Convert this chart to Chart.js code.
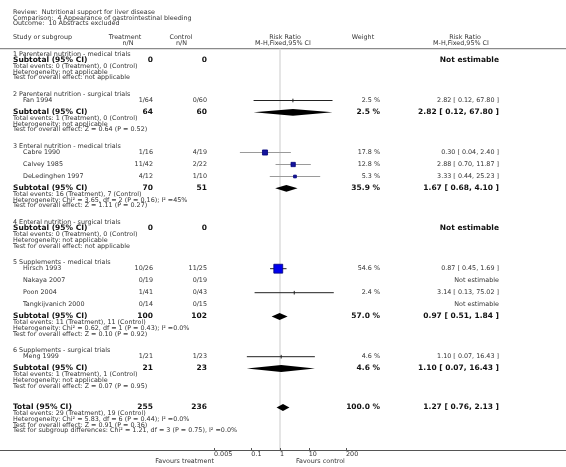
<!DOCTYPE html>
<html>
<head>
<meta charset="utf-8">
<script src="https://cdn.jsdelivr.net/npm/chart.js@4.4.1/dist/chart.umd.min.js"></script>
<style>
  html, body { margin: 0; padding: 0; background: #fff; }
  canvas { display: block; }
</style>
</head>
<body>
<canvas id="forest" width="566" height="467"></canvas>
<script>
// ---- data ----
const HEADER_LINES = [
  "Review:  Nutritional support for liver disease",
  "Comparison:  4 Appearance of gastrointestinal bleeding",
  "Outcome:  10 Abstracts excluded",
];

const GROUP_LABELS = [
  "1 Parenteral nutrition - medical trials",
  "2 Parenteral nutrition - surgical trials",
  "3 Enteral nutrition - medical trials",
  "4 Enteral nutrition - surgical trials",
  "5 Supplements - medical trials",
  "6 Supplements - surgical trials",
];

const STUDY_NAMES = [
  "Fan 1994", "Cabre 1990", "Calvey 1985", "DeLedinghen 1997",
  "Hirsch 1993", "Nakaya 2007", "Poon 2004", "Tangkijvanich 2000", "Meng 1999",
];
const STUDY_GROUP = [1, 2, 2, 2, 4, 4, 4, 4, 5];
const STUDY_TREAT = ["1/64", "1/16", "11/42", "4/12", "10/26", "0/19", "1/41", "0/14", "1/21"];
const STUDY_CONTROL = ["0/60", "4/19", "2/22", "1/10", "11/25", "0/19", "0/43", "0/15", "1/23"];
const STUDY_RR = [2.82, 0.30, 2.88, 3.33, 0.87, null, 3.14, null, 1.10];
const STUDY_LOW = [0.12, 0.04, 0.70, 0.44, 0.45, null, 0.13, null, 0.07];
const STUDY_HIGH = [67.80, 2.40, 11.87, 25.23, 1.69, null, 75.02, null, 16.43];
const STUDY_WEIGHT = [2.5, 17.8, 12.8, 5.3, 54.6, null, 2.4, null, 4.6];

const SUB_TREAT_N = [0, 64, 70, 0, 100, 21];
const SUB_CONTROL_N = [0, 60, 51, 0, 102, 23];
const SUB_RR = [null, 2.82, 1.67, null, 0.97, 1.10];
const SUB_LOW = [null, 0.12, 0.68, null, 0.51, 0.07];
const SUB_HIGH = [null, 67.80, 4.10, null, 1.84, 16.43];
const SUB_WEIGHT = [null, 2.5, 35.9, null, 57.0, 4.6];
const SUB_NOTES = [
  ["Total events: 0 (Treatment), 0 (Control)", "Heterogeneity: not applicable", "Test for overall effect: not applicable"],
  ["Total events: 1 (Treatment), 0 (Control)", "Heterogeneity: not applicable", "Test for overall effect: Z = 0.64 (P = 0.52)"],
  ["Total events: 16 (Treatment), 7 (Control)", "Heterogeneity: Chi\u00b2 = 3.65, df = 2 (P = 0.16); I\u00b2 =45%", "Test for overall effect: Z = 1.11 (P = 0.27)"],
  ["Total events: 0 (Treatment), 0 (Control)", "Heterogeneity: not applicable", "Test for overall effect: not applicable"],
  ["Total events: 11 (Treatment), 11 (Control)", "Heterogeneity: Chi\u00b2 = 0.62, df = 1 (P = 0.43); I\u00b2 =0.0%", "Test for overall effect: Z = 0.10 (P = 0.92)"],
  ["Total events: 1 (Treatment), 1 (Control)", "Heterogeneity: not applicable", "Test for overall effect: Z = 0.07 (P = 0.95)"],
];

const TOTAL_N = [255, 236];
const TOTAL_RR = [1.27, 0.76, 2.13];
const TOTAL_WEIGHT = 100.0;
const TOTAL_NOTES = [
  "Total events: 29 (Treatment), 19 (Control)",
  "Heterogeneity: Chi\u00b2 = 5.83, df = 6 (P = 0.44); I\u00b2 =0.0%",
  "Test for overall effect: Z = 0.91 (P = 0.36)",
  "Test for subgroup differences: Chi\u00b2 = 1.21, df = 3 (P = 0.75), I\u00b2 =0.0%",
];

const X_TICKS = [0.005, 0.1, 1, 10, 200];
const X_TICK_LABELS = ["0.005", "0.1", "1", "10", "200"];

// ---- layout (the y scale is 1:1 with canvas pixels) ----
const W = 566, H = 467;
const TITLE_TOP = 12.4, TITLE_STEP = 5.7;
const FIRST_ROW = 54.3;
const LABEL_TO_ROW = 6, ROW_STEP = 12, ROW_TO_SUB = 11.8;
const SUB_TO_NOTE = 6, NOTE_STEP = 5.7, GAP_GROUP = 16.8, GAP_TOTAL = 21.6;
const HEADER_RULE = 48.7, AXIS_Y = 450;

const COL = { name: 13, study: 23, treat: 153, control: 207, weight: 380, rr: 499 };
const SMALL = '6.4px "DejaVu Sans"';
const BOLD = 'bold 7.5px "DejaVu Sans"';
const INK = "#333";
const DARK = "#111";
const GRAY_CI = ["Cabre 1990", "Calvey 1985", "DeLedinghen 1997"];

function fmtRR(rr, lo, hi) {
  return rr.toFixed(2) + " [ " + lo.toFixed(2) + ", " + hi.toFixed(2) + " ]";
}

function buildRows() {
  const rows = [];
  let y = FIRST_ROW;
  GROUP_LABELS.forEach((label, g) => {
    if (g > 0) y += GAP_GROUP;
    rows.push({ kind: "group", g, y });
    y += LABEL_TO_ROW;
    const members = STUDY_NAMES.map((_, i) => i).filter((i) => STUDY_GROUP[i] === g);
    members.forEach((i, k) => {
      if (k) y += ROW_STEP;
      rows.push({ kind: "study", i, y });
    });
    if (members.length) y += ROW_TO_SUB;
    rows.push({ kind: "subtotal", g, y });
    y += SUB_TO_NOTE;
    SUB_NOTES[g].forEach((t, k) => {
      if (k) y += NOTE_STEP;
      rows.push({ kind: "note", text: t, y });
    });
  });
  y += GAP_TOTAL;
  rows.push({ kind: "total", y });
  y += SUB_TO_NOTE;
  TOTAL_NOTES.forEach((t, k) => {
    if (k) y += NOTE_STEP;
    rows.push({ kind: "note", text: t, y });
  });
  return rows;
}

const ROWS = buildRows();
const studyRows = ROWS.filter((r) => r.kind === "study" && STUDY_RR[r.i] != null);

// CI whiskers, one small line dataset per study
const ciSets = studyRows.map((r) => ({
  type: "line",
  data: [{ x: STUDY_LOW[r.i], y: r.y }, { x: STUDY_HIGH[r.i], y: r.y }],
  borderColor: GRAY_CI.includes(STUDY_NAMES[r.i]) ? "#9a9a9a" : "#222",
  borderWidth: 1,
  pointRadius: 0,
  order: 2,
}));

// weight squares (the lightest studies only show a tick)
const squares = studyRows.filter((r) => STUDY_WEIGHT[r.i] >= 5);
const ticks = studyRows.filter((r) => STUDY_WEIGHT[r.i] < 5);

const datasets = [
  ...ciSets,
  {
    type: "scatter",
    data: squares.map((r) => ({ x: STUDY_RR[r.i], y: r.y })),
    pointStyle: "rect",
    pointRadius: squares.map((r) => 0.85 * Math.sqrt(STUDY_WEIGHT[r.i])),
    backgroundColor: squares.map((r) => (STUDY_WEIGHT[r.i] > 30 ? "#0000ee" : "#14149c")),
    borderColor: "#00007a",
    borderWidth: 0.8,
    order: 1,
  },
  {
    type: "scatter",
    data: ticks.map((r) => ({ x: STUDY_RR[r.i], y: r.y })),
    pointStyle: "line",
    rotation: 90,
    pointRadius: 1.8,
    borderColor: "#222",
    borderWidth: 1,
    order: 1,
  },
];

function text(ctx, s, x, y, font, align, color) {
  ctx.font = font;
  ctx.textAlign = align;
  ctx.fillStyle = color || INK;
  ctx.fillText(s, x, y);
}

function diamond(ctx, xs, py, lo, est, hi) {
  const a = xs.getPixelForValue(lo), m = xs.getPixelForValue(est), b = xs.getPixelForValue(hi);
  ctx.beginPath();
  ctx.moveTo(a, py);
  ctx.lineTo(m, py - 3.4);
  ctx.lineTo(b, py);
  ctx.lineTo(m, py + 3.4);
  ctx.closePath();
  ctx.fillStyle = "#000";
  ctx.fill();
}

const forestPlugin = {
  id: "forest",
  beforeDatasetsDraw(chart) {
    const { ctx, scales: { x, y } } = chart;
    ctx.save();
    // header rule
    ctx.strokeStyle = "#8a8a8a";
    ctx.lineWidth = 1.2;
    ctx.beginPath();
    ctx.moveTo(0, y.getPixelForValue(HEADER_RULE));
    ctx.lineTo(W, y.getPixelForValue(HEADER_RULE));
    ctx.stroke();
    // line of no effect
    const x1 = x.getPixelForValue(1);
    ctx.strokeStyle = "#dcdcdc";
    ctx.lineWidth = 1.5;
    ctx.beginPath();
    ctx.moveTo(x1, y.getPixelForValue(HEADER_RULE));
    ctx.lineTo(x1, y.getPixelForValue(AXIS_Y));
    ctx.stroke();
    ctx.restore();
  },
  afterDatasetsDraw(chart) {
    const { ctx, scales: { x, y } } = chart;
    ctx.save();
    ctx.textBaseline = "middle";

    // titles and column heads
    HEADER_LINES.forEach((s, k) =>
      text(ctx, s, COL.name, y.getPixelForValue(TITLE_TOP + k * TITLE_STEP), SMALL, "left"));
    const h1 = y.getPixelForValue(37.7), h2 = y.getPixelForValue(43.3);
    text(ctx, "Study or subgroup", COL.name, h1, SMALL, "left");
    text(ctx, "Treatment", 125, h1, SMALL, "center");
    text(ctx, "n/N", 128, h2, SMALL, "center");
    text(ctx, "Control", 181, h1, SMALL, "center");
    text(ctx, "n/N", 181.5, h2, SMALL, "center");
    text(ctx, "Risk Ratio", 285, h1, SMALL, "center");
    text(ctx, "M-H,Fixed,95% CI", 283, h2, SMALL, "center");
    text(ctx, "Weight", 363, h1, SMALL, "center");
    text(ctx, "Risk Ratio", 465, h1, SMALL, "center");
    text(ctx, "M-H,Fixed,95% CI", 461, h2, SMALL, "center");

    ROWS.forEach((r) => {
      const py = y.getPixelForValue(r.y);
      if (r.kind === "group") {
        text(ctx, GROUP_LABELS[r.g], COL.name, py, SMALL, "left");
      } else if (r.kind === "note") {
        text(ctx, r.text, COL.name, py, SMALL, "left");
      } else if (r.kind === "study") {
        const i = r.i;
        text(ctx, STUDY_NAMES[i], COL.study, py, SMALL, "left");
        text(ctx, STUDY_TREAT[i], COL.treat, py, SMALL, "right");
        text(ctx, STUDY_CONTROL[i], COL.control, py, SMALL, "right");
        if (STUDY_RR[i] == null) {
          text(ctx, "Not estimable", COL.rr, py, SMALL, "right");
        } else {
          text(ctx, STUDY_WEIGHT[i].toFixed(1) + " %", COL.weight, py, SMALL, "right");
          text(ctx, fmtRR(STUDY_RR[i], STUDY_LOW[i], STUDY_HIGH[i]), COL.rr, py, SMALL, "right");
        }
      } else if (r.kind === "subtotal") {
        const g = r.g;
        text(ctx, "Subtotal (95% CI)", COL.name, py, BOLD, "left", DARK);
        text(ctx, String(SUB_TREAT_N[g]), COL.treat, py, BOLD, "right", DARK);
        text(ctx, String(SUB_CONTROL_N[g]), COL.control, py, BOLD, "right", DARK);
        if (SUB_RR[g] == null) {
          text(ctx, "Not estimable", COL.rr, py, BOLD, "right", DARK);
        } else {
          text(ctx, SUB_WEIGHT[g].toFixed(1) + " %", COL.weight, py, BOLD, "right", DARK);
          text(ctx, fmtRR(SUB_RR[g], SUB_LOW[g], SUB_HIGH[g]), COL.rr, py, BOLD, "right", DARK);
          diamond(ctx, x, py, SUB_LOW[g], SUB_RR[g], SUB_HIGH[g]);
        }
      } else if (r.kind === "total") {
        text(ctx, "Total (95% CI)", COL.name, py, BOLD, "left", DARK);
        text(ctx, String(TOTAL_N[0]), COL.treat, py, BOLD, "right", DARK);
        text(ctx, String(TOTAL_N[1]), COL.control, py, BOLD, "right", DARK);
        text(ctx, TOTAL_WEIGHT.toFixed(1) + " %", COL.weight, py, BOLD, "right", DARK);
        text(ctx, fmtRR(TOTAL_RR[0], TOTAL_RR[1], TOTAL_RR[2]), COL.rr, py, BOLD, "right", DARK);
        diamond(ctx, x, py, TOTAL_RR[1], TOTAL_RR[0], TOTAL_RR[2]);
      }
    });

    // bottom axis
    const ay = y.getPixelForValue(AXIS_Y);
    ctx.strokeStyle = "#555";
    ctx.lineWidth = 1;
    ctx.beginPath();
    ctx.moveTo(0, ay + 0.5);
    ctx.lineTo(W, ay + 0.5);
    X_TICKS.forEach((v) => {
      const px = Math.round(x.getPixelForValue(v)) + 0.5;
      ctx.moveTo(px, ay - 2);
      ctx.lineTo(px, ay + 0.5);
    });
    ctx.stroke();
    X_TICKS.forEach((v, k) => {
      text(ctx, X_TICK_LABELS[k], x.getPixelForValue(v), ay + 4.8, SMALL, "left");
    });
    text(ctx, "Favours treatment", x.getPixelForValue(X_TICKS[0]), ay + 11.5, SMALL, "right");
    text(ctx, "Favours control", 296, ay + 11.5, SMALL, "left");
    ctx.restore();
  },
};

new Chart(document.getElementById("forest"), {
  type: "scatter",
  data: { datasets },
  options: {
    responsive: false,
    animation: false,
    devicePixelRatio: 1,
    layout: { autoPadding: false, padding: { left: 214, right: W - 346, top: 0, bottom: 0 } },
    plugins: { legend: { display: false }, tooltip: { enabled: false } },
    scales: {
      x: { type: "logarithmic", min: 0.005, max: 200, display: false },
      y: { type: "linear", min: 0, max: H, reverse: true, display: false },
    },
    elements: { line: { tension: 0 } },
    datasets: { line: { clip: false }, scatter: { clip: false } },
  },
  plugins: [forestPlugin],
});
</script>
</body>
</html>
